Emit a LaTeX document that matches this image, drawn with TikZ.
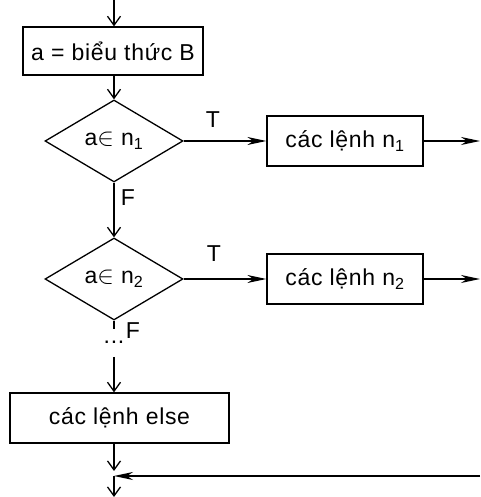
\documentclass[tikz,border=0pt]{standalone}
\usepackage{fontspec}
\setmainfont[LetterSpace=3]{Liberation Sans}
\usetikzlibrary{shapes.geometric,arrows.meta}
\begin{document}
\begin{tikzpicture}[x=1pt,y=1pt,
  font=\fontsize{23}{26}\selectfont,
  box/.style={draw,line width=1.3pt,rectangle,inner sep=0pt},
  dia/.style={draw,line width=1.3pt,diamond,inner sep=0pt,minimum width=138pt,minimum height=82pt},
  line/.style={line width=1.3pt},
  varr/.style={line width=1.3pt,-{Straight Barb[length=9pt,width=13pt,line width=1.3pt]}},
  harr/.style={line width=1.3pt,-{Stealth[length=19pt,width=8pt,inset=6pt]}},
  lbl/.style={inner sep=0pt}]
\useasboundingbox (0,0) rectangle (480,497);
\coordinate (top) at (114,497);
\node[box,minimum width=180pt,minimum height=48pt] (b0) at (113,446) {a = biểu thức B};
\node[dia] (d1) at (114,356) {a$\in$ n\textsubscript{1}};
\node[box,minimum width=156pt,minimum height=50pt] (b1) at (345,356) {các lệnh n\textsubscript{1}};
\coordinate (o1) at (480,356);
\node[dia] (d2) at (114,218) {a$\in$ n\textsubscript{2}};
\node[box,minimum width=156pt,minimum height=50pt] (b2) at (345,218) {các lệnh n\textsubscript{2}};
\coordinate (o2) at (480,218);
\coordinate (f2) at (114,168);
\node[lbl] (dots) at (114,155) {...};
\coordinate (s2) at (114,140);
\node[box,minimum width=219pt,minimum height=50pt] (be) at (119.5,79) {các lệnh else};
\coordinate (m) at (114,21);
\coordinate (r) at (480,21);
\coordinate (bot) at (114,0);
\node[lbl] (t1) at (213,377) {T};
\node[lbl] (t2) at (214,243) {T};
\node[lbl] (fl1) at (128,299) {F};
\node[lbl] (fl2) at (133,166) {F};
\draw[varr] (top) -- (top |- b0.north);
\draw[varr] (top |- b0.south) -- (d1.north);
\draw[harr] (d1.east) -- (b1.west);
\draw[harr] (b1.east) -- (o1);
\draw[varr] (d1.south) -- (d2.north);
\draw[harr] (d2.east) -- (b2.west);
\draw[harr] (b2.east) -- (o2);
\draw[line] (d2.south) -- (f2);
\draw[varr] (s2) -- (s2 |- be.north);
\draw[varr] (m |- be.south) -- ([yshift=5pt]m);
\draw[varr] (m) -- (bot);
\draw[harr] (r) -- (m);
\end{tikzpicture}
\end{document}
